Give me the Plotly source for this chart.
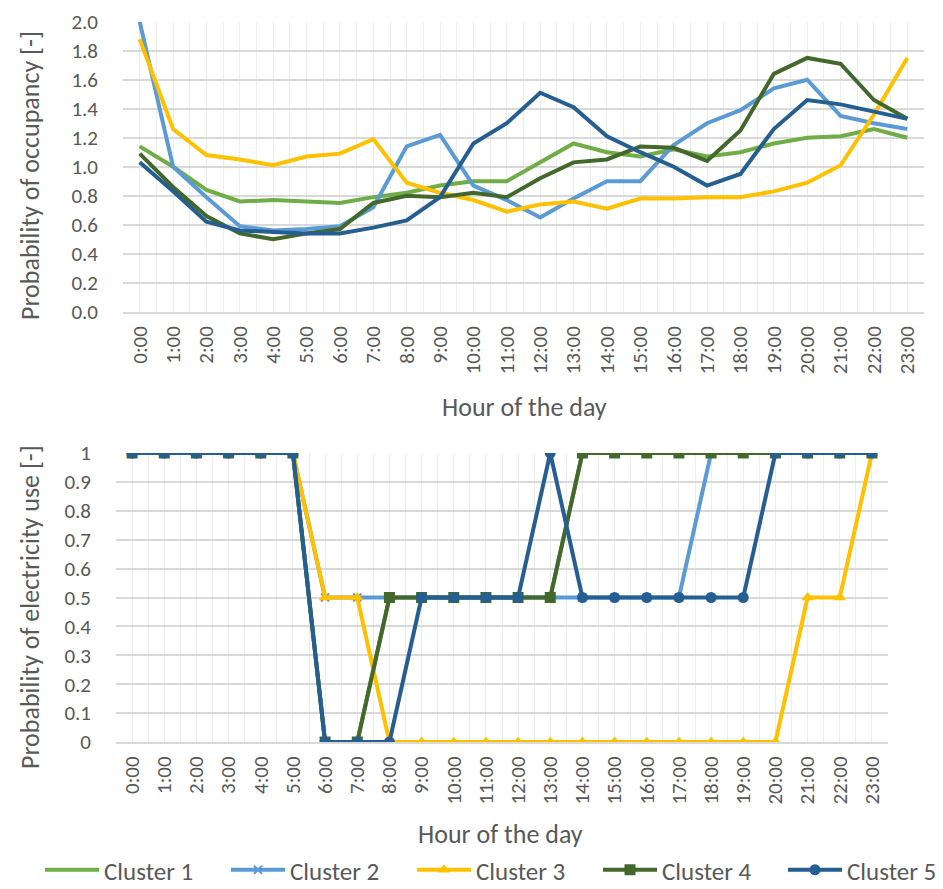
import plotly.graph_objects as go

hours = [f"{h}:00" for h in range(24)]

# Probability of occupancy per cluster
occ_c1 = [1.14, 1.00, 0.84, 0.76, 0.77, 0.76, 0.75, 0.79, 0.82, 0.87, 0.90, 0.90, 1.03, 1.16, 1.10, 1.07, 1.12, 1.07, 1.10, 1.16, 1.20, 1.21, 1.26, 1.20]
occ_c2 = [2.00, 1.00, 0.79, 0.59, 0.56, 0.57, 0.59, 0.72, 1.14, 1.22, 0.87, 0.77, 0.65, 0.78, 0.90, 0.90, 1.15, 1.30, 1.39, 1.54, 1.60, 1.35, 1.30, 1.26]
occ_c3 = [1.88, 1.26, 1.08, 1.05, 1.01, 1.07, 1.09, 1.19, 0.89, 0.82, 0.77, 0.69, 0.74, 0.76, 0.71, 0.78, 0.78, 0.79, 0.79, 0.83, 0.89, 1.01, 1.36, 1.75]
occ_c4 = [1.09, 0.86, 0.66, 0.54, 0.50, 0.54, 0.57, 0.75, 0.80, 0.79, 0.82, 0.79, 0.92, 1.03, 1.05, 1.14, 1.13, 1.04, 1.25, 1.64, 1.75, 1.71, 1.46, 1.33]
occ_c5 = [1.03, 0.83, 0.62, 0.56, 0.55, 0.54, 0.54, 0.58, 0.63, 0.79, 1.16, 1.30, 1.51, 1.41, 1.21, 1.10, 1.00, 0.87, 0.95, 1.26, 1.46, 1.43, 1.38, 1.33]

# Probability of electricity use per cluster
elec_c1 = [1, 1, 1, 1, 1, 1, 0, 0, 0.5, 0.5, 0.5, 0.5, 0.5, 0.5, 1, 1, 1, 1, 1, 1, 1, 1, 1, 1]
elec_c2 = [1, 1, 1, 1, 1, 1, 0.5, 0.5, 0.5, 0.5, 0.5, 0.5, 0.5, 0.5, 0.5, 0.5, 0.5, 0.5, 1, 1, 1, 1, 1, 1]
elec_c3 = [1, 1, 1, 1, 1, 1, 0.5, 0.5, 0, 0, 0, 0, 0, 0, 0, 0, 0, 0, 0, 0, 0, 0.5, 0.5, 1]
elec_c4 = [1, 1, 1, 1, 1, 1, 0, 0, 0.5, 0.5, 0.5, 0.5, 0.5, 0.5, 1, 1, 1, 1, 1, 1, 1, 1, 1, 1]
elec_c5 = [1, 1, 1, 1, 1, 1, 0, 0, 0, 0.5, 0.5, 0.5, 0.5, 1, 0.5, 0.5, 0.5, 0.5, 0.5, 0.5, 1, 1, 1, 1]

names = ["Cluster 1", "Cluster 2", "Cluster 3", "Cluster 4", "Cluster 5"]
colors = ["#70AD47", "#5B9BD5", "#FFC000", "#43682B", "#255E91"]
symbols = [None, "x-thin", "triangle-up", "square", "circle"]
# the last entry sits in its own legend box so the row fits the page width
legend_ids = ["legend", "legend", "legend", "legend", "legend2"]

FONT = "Carlito, Lato, sans-serif"
GREY = "#595959"
W, H = 943, 889

xs = list(range(24))
fig = go.Figure()

for name, col, ys in zip(names, colors, [occ_c1, occ_c2, occ_c3, occ_c4, occ_c5]):
    fig.add_trace(go.Scatter(x=xs, y=ys, mode="lines", name=name, showlegend=False,
                             line=dict(color=col, width=4), xaxis="x", yaxis="y"))

for name, col, sym, lg, ys in zip(names, colors, symbols, legend_ids,
                                  [elec_c1, elec_c2, elec_c3, elec_c4, elec_c5]):
    if sym is None:
        fig.add_trace(go.Scatter(x=xs, y=ys, mode="lines", name=name, legend=lg,
                                 line=dict(color=col, width=4), xaxis="x2", yaxis="y2"))
    else:
        mk = dict(symbol=sym, size=11, color=col)
        if sym == "x-thin":
            mk = dict(symbol=sym, size=8, color=col, line=dict(color=col, width=2))
        fig.add_trace(go.Scatter(x=xs, y=ys, mode="lines+markers", name=name, legend=lg,
                                 line=dict(color=col, width=4), marker=mk,
                                 xaxis="x2", yaxis="y2"))

tick_font = dict(family=FONT, size=21, color=GREY)
title_font = dict(family=FONT, size=26, color=GREY)

xcommon = dict(range=[-0.5, 23.5], tickmode="array", tickvals=xs, ticktext=hours,
               tickangle=-90, tickfont=tick_font, showgrid=True, gridcolor="#EDEDED",
               gridwidth=1, zeroline=False, showline=True, linecolor="#D9D9D9", linewidth=2,
               ticks="", ticklabelstandoff=4,
               minor=dict(tickvals=[x - 0.5 for x in range(25)], showgrid=True,
                          gridcolor="#EDEDED", gridwidth=1))

legend_common = dict(orientation="h", xanchor="left", y=1 - 870 / H, yanchor="middle",
                     font=dict(family=FONT, size=25, color=GREY),
                     itemwidth=54, bgcolor="rgba(0,0,0,0)", tracegroupgap=0)

fig.update_layout(
    width=W, height=H, autosize=False,
    margin=dict(l=0, r=0, t=0, b=0, autoexpand=False),
    paper_bgcolor="white", plot_bgcolor="white",
    font=dict(family=FONT, color=GREY),
    xaxis=dict(domain=[123 / W, 924 / W], anchor="y", **xcommon),
    yaxis=dict(domain=[1 - 311.7 / H, 1 - 21.7 / H], anchor="x", range=[0, 2.0],
               tickmode="linear", tick0=0, dtick=0.2, tickformat=".1f",
               tickfont=tick_font, showgrid=True, gridcolor="#D9D9D9", gridwidth=2,
               zeroline=False, ticks="", ticklabelstandoff=24),
    xaxis2=dict(domain=[116 / W, 888 / W], anchor="y2", **xcommon),
    yaxis2=dict(domain=[1 - 742 / H, 1 - 453 / H], anchor="x2", range=[0, 1.0],
                tickmode="linear", tick0=0, dtick=0.1,
                tickfont=tick_font, showgrid=True, gridcolor="#D9D9D9", gridwidth=2,
                zeroline=False, ticks="", ticklabelstandoff=24),
    legend=dict(x=40 / W, entrywidth=117, entrywidthmode="pixels", **legend_common),
    legend2=dict(x=783 / W, **legend_common),
    annotations=[
        dict(text="Probability of occupancy [-]", x=30 / W, y=1 - 176 / H, xref="paper",
             yref="paper", textangle=-90, showarrow=False, xanchor="center", yanchor="middle",
             font=title_font),
        dict(text="Hour of the day", x=524 / W, y=1 - 407 / H, xref="paper", yref="paper",
             showarrow=False, xanchor="center", yanchor="middle", font=title_font),
        dict(text="Probability of electricity use [-]", x=30 / W, y=1 - 607 / H, xref="paper",
             yref="paper", textangle=-90, showarrow=False, xanchor="center", yanchor="middle",
             font=title_font),
        dict(text="Hour of the day", x=500 / W, y=1 - 834 / H, xref="paper", yref="paper",
             showarrow=False, xanchor="center", yanchor="middle", font=title_font),
    ],
)

fig.write_html("out.html")
